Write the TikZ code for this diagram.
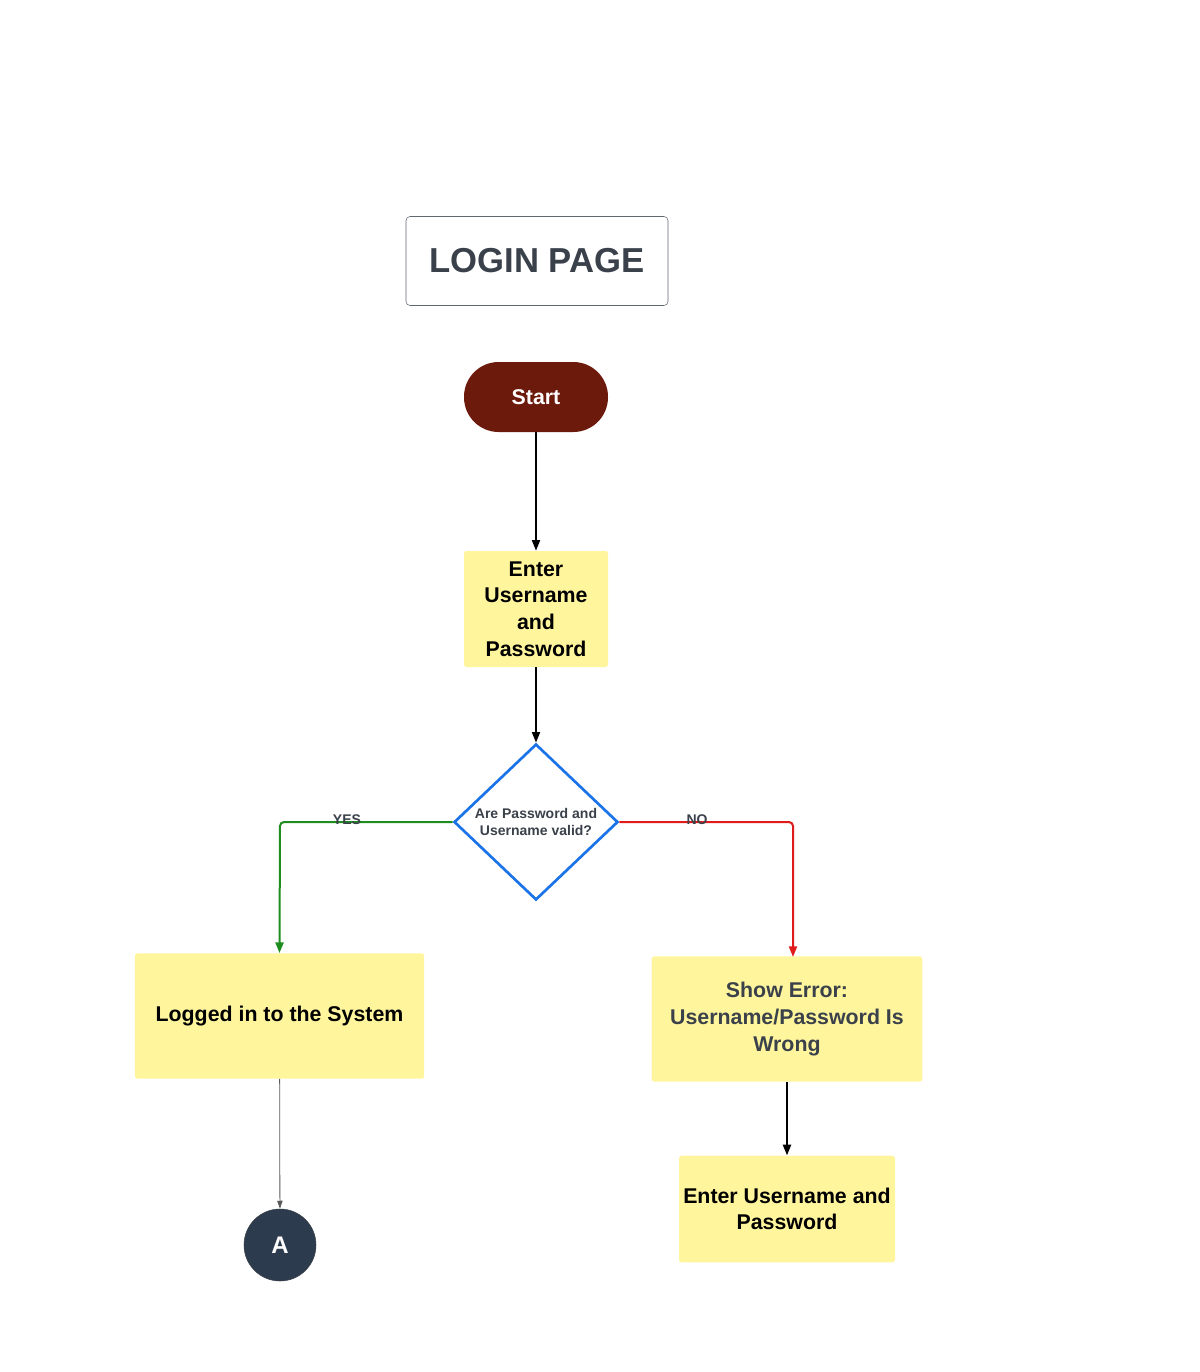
\documentclass[tikz,border=0pt]{standalone}
\usepackage{fontspec}
\setmainfont{Liberation Sans}
\usetikzlibrary{shapes.geometric,arrows.meta}
\definecolor{yel}{HTML}{FFF59D}
\definecolor{dark}{HTML}{3A414A}
\definecolor{startc}{HTML}{6B1A0C}
\definecolor{bluec}{HTML}{1A73E8}
\definecolor{navy}{HTML}{2D3B4E}
\definecolor{grn}{HTML}{1E8C1E}
\definecolor{rd}{HTML}{E01B1B}
\begin{document}
\begin{tikzpicture}[x=0.75pt,y=-0.75pt,
  box/.style={fill=yel,rounded corners=2pt,draw=none,align=center,font=\bfseries\fontsize{16}{20}\selectfont,text=black,inner sep=2pt},
  arr/.style={-{Triangle[length=8pt,width=6pt]},line width=1.5pt}]
\useasboundingbox (0,0) rectangle (1200,1372);
\node[draw=dark!80,rounded corners=3pt,minimum width=196.5pt,minimum height=66.75pt,font=\bfseries\fontsize{26}{30}\selectfont,text=dark] (title) at (537,261) {LOGIN PAGE};
\node[fill=startc,rounded corners=26pt,minimum width=108pt,minimum height=52.5pt,text=white,font=\bfseries\fontsize{16}{20}\selectfont] (start) at (536,397) {Start};
\node[box,minimum width=108pt,minimum height=87pt] (enter) at (536,609) {Enter\\Username\\and\\Password};
\node[diamond,draw=bluec,line width=2pt,fill=white,minimum width=123pt,minimum height=117pt,inner sep=0pt,align=center,font=\bfseries\fontsize{10.5}{13}\selectfont,text=dark] (dec) at (536,822) {Are Password and\\Username valid?};
\node[box,minimum width=217pt,minimum height=94pt] (log) at (279.5,1016) {Logged in to the System};
\node[box,minimum width=203pt,minimum height=94pt,text=dark] (err) at (787,1019) {Show Error:\\Username/Password Is\\Wrong};
\node[box,minimum width=162pt,minimum height=80pt] (enter2) at (787,1209) {Enter Username and\\Password};
\node[circle,fill=navy,draw=dark,minimum size=54pt,text=white,font=\bfseries\fontsize{18}{20}\selectfont] (A) at (280,1245) {A};
\coordinate (cy) at (280,822);
\coordinate (cn) at (793,822);
\coordinate (en) at (793,957);
\draw[arr] (start) -- (enter);
\draw[arr] (enter) -- (dec);
\draw[arr,grn,rounded corners=3pt] (dec.west) -- (cy) -- (log.north);
\draw[arr,rd,rounded corners=3pt] (dec.east) -- (cn) -- (en);
\draw[arr] (err) -- (enter2);
\draw[-{Triangle[length=6pt,width=4pt]},gray!70!black,line width=0.6pt] (log) -- (A);
\node[font=\bfseries\fontsize{10.5}{12}\selectfont,text=dark] (yes) at (347,820) {YES};
\node[font=\bfseries\fontsize{10.5}{12}\selectfont,text=dark] (no) at (697,820) {NO};
\end{tikzpicture}
\end{document}
